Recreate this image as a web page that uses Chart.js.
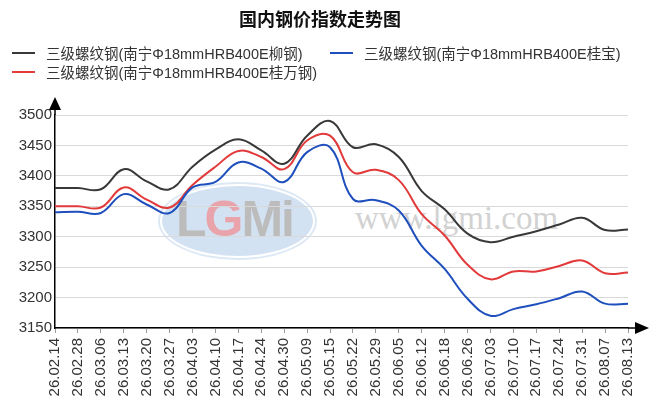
<!DOCTYPE html>
<html>
<head>
<meta charset="utf-8">
<title>国内钢价指数走势图</title>
<script src="https://cdn.jsdelivr.net/npm/chart.js@4.4.1/dist/chart.umd.min.js"></script>
<style>
    html, body { margin: 0; padding: 0; background: #fff; }
    #wrap {
        position: relative; width: 655px; height: 411px; overflow: hidden;
        font-family: "Liberation Sans", Arial, "Noto Sans CJK SC", sans-serif;
    }
    #chart { position: absolute; left: 0; top: 0; z-index: 2; }
    #title {
        position: absolute; left: 0; top: 5px; width: 640px; text-align: center;
        font: bold 18px "Noto Sans CJK SC", sans-serif; color: #111; z-index: 3;
    }
    #legend {
        position: absolute; left: 12px; top: 43px; z-index: 3;
        display: grid; grid-template-columns: 318px auto; grid-auto-rows: 19px;
        font-size: 14.5px; color: #333;
    }
    #legend .item { display: flex; align-items: center; white-space: nowrap; }
    #legend .swatch { width: 23px; height: 2px; margin-right: 11px; }
    /* watermark sits under the transparent canvas */
    .wm { position: absolute; z-index: 1; }
    #wmEllipse {
        left: 162px; top: 186px; width: 151px; height: 70px; border-radius: 50%;
        background: #d3e2f3; box-shadow: 0 0 0 2px #fff, 0 0 0 4px #dde8f5;
    }
    #wmLogo {
        left: 176px; top: 190px; font: bold 50px "Liberation Sans", sans-serif;
        letter-spacing: -2px; color: #bcbcbc;
    }
    #wmLogo .g { color: #e9a3ab; }
    #wmSite {
        left: 355px; top: 202px; font: 33px "Liberation Serif", serif;
        color: #d2d2d2; line-height: 33px;
    }
</style>
</head>
<body>
<div id="wrap">
    <div id="title">国内钢价指数走势图</div>
    <div id="legend"></div>
    <div class="wm" id="wmEllipse"></div>
    <div class="wm" id="wmLogo">L<span class="g">G</span>Mi</div>
    <div class="wm" id="wmSite">www.lgmi.com</div>
    <canvas id="chart" width="655" height="411"></canvas>
</div>
<script>
    var dates = ['26.02.14', '26.02.28', '26.03.06', '26.03.13', '26.03.20', '26.03.27', '26.04.03',
        '26.04.10', '26.04.17', '26.04.24', '26.04.30', '26.05.09', '26.05.15', '26.05.22', '26.05.29',
        '26.06.05', '26.06.12', '26.06.18', '26.06.26', '26.07.03', '26.07.10', '26.07.17', '26.07.24',
        '26.07.31', '26.08.07', '26.08.13'];

    var liugang = [3380, 3380, 3378, 3411, 3391, 3378, 3415, 3443, 3460, 3442, 3420, 3466, 3490,
        3447, 3452, 3431, 3375, 3345, 3305, 3291, 3300, 3309, 3320, 3331, 3311, 3312];
    var guibao = [3340, 3341, 3339, 3370, 3353, 3339, 3381, 3390, 3422, 3412, 3390, 3439, 3447,
        3362, 3360, 3343, 3285, 3247, 3198, 3170, 3181, 3189, 3199, 3210, 3190, 3190];
    var guiwan = [3350, 3350, 3348, 3381, 3361, 3348, 3385, 3415, 3441, 3431, 3411, 3458, 3466,
        3406, 3410, 3393, 3337, 3302, 3254, 3230, 3243, 3243, 3252, 3261, 3240, 3241];

    var seriesNames = ['三级螺纹钢(南宁Φ18mmHRB400E柳钢)', '三级螺纹钢(南宁Φ18mmHRB400E桂宝)',
        '三级螺纹钢(南宁Φ18mmHRB400E桂万钢)'];
    var seriesColors = ['#383838', '#1f4fbd', '#e23a3a'];
    var seriesValues = [liugang, guibao, guiwan];

    var yTicks = [3150, 3200, 3250, 3300, 3350, 3400, 3450, 3500];

    function buildLegend() {
        var box = document.getElementById('legend');
        seriesNames.forEach(function (name, i) {
            var item = document.createElement('div');
            item.className = 'item';
            var sw = document.createElement('span');
            sw.className = 'swatch';
            sw.style.background = seriesColors[i];
            var txt = document.createElement('span');
            txt.textContent = name;
            item.appendChild(sw);
            item.appendChild(txt);
            box.appendChild(item);
        });
    }

    var axisArrows = {
        id: 'axisArrows',
        afterDraw: function (chart) {
            var ctx = chart.ctx;
            var a = chart.chartArea;
            ctx.save();
            ctx.strokeStyle = '#000';
            ctx.fillStyle = '#000';
            ctx.lineWidth = 1.5;
            ctx.beginPath();
            ctx.moveTo(a.left, a.top);
            ctx.lineTo(a.left, a.top - 8);
            ctx.moveTo(a.right, a.bottom);
            ctx.lineTo(a.right + 9, a.bottom);
            ctx.stroke();
            ctx.beginPath();
            ctx.moveTo(a.left, a.top - 18);
            ctx.lineTo(a.left - 6, a.top - 5);
            ctx.lineTo(a.left + 6, a.top - 5);
            ctx.closePath();
            ctx.fill();
            ctx.beginPath();
            ctx.moveTo(a.right + 21, a.bottom);
            ctx.lineTo(a.right + 7, a.bottom - 6);
            ctx.lineTo(a.right + 7, a.bottom + 6);
            ctx.closePath();
            ctx.fill();
            ctx.restore();
        }
    };

    function drawChart() {
        var canvas = document.getElementById('chart');
        var tickFont = { family: '"Liberation Sans", Arial, sans-serif', size: 15 };

        new Chart(canvas, {
            type: 'line',
            data: {
                labels: dates,
                datasets: seriesValues.map(function (values, i) {
                    return {
                        label: seriesNames[i],
                        data: values,
                        borderColor: seriesColors[i],
                        borderWidth: 2,
                        pointRadius: 0,
                        tension: 0.4,
                        fill: false
                    };
                })
            },
            options: {
                responsive: false,
                animation: false,
                layout: {
                    padding: { top: 115, right: 27, left: 0, bottom: 0 }
                },
                plugins: {
                    legend: { display: false },
                    title: { display: false },
                    tooltip: { enabled: false }
                },
                scales: {
                    x: {
                        offset: false,
                        grid: {
                            drawOnChartArea: false,
                            drawTicks: true,
                            tickLength: 5,
                            color: '#9a9a9a'
                        },
                        border: { color: '#000', width: 1.5 },
                        ticks: {
                            autoSkip: false,
                            maxRotation: 90,
                            minRotation: 90,
                            padding: 5,
                            color: '#333',
                            font: tickFont
                        },
                        afterFit: function (scale) {
                            scale.height = 83;
                        }
                    },
                    y: {
                        min: yTicks[0],
                        max: yTicks[yTicks.length - 1],
                        afterBuildTicks: function (scale) {
                            scale.ticks = yTicks.map(function (v) { return { value: v }; });
                        },
                        grid: {
                            drawTicks: false,
                            color: '#d9d9d9',
                            lineWidth: 1
                        },
                        border: { color: '#000', width: 1.5 },
                        ticks: {
                            padding: 3,
                            color: '#333',
                            font: tickFont,
                            callback: function (value) {
                                return String(value);
                            }
                        },
                        afterFit: function (scale) {
                            scale.width = 55;
                        }
                    }
                }
            },
            plugins: [axisArrows]
        });
    }

    buildLegend();
    drawChart();
</script>
</body>
</html>
